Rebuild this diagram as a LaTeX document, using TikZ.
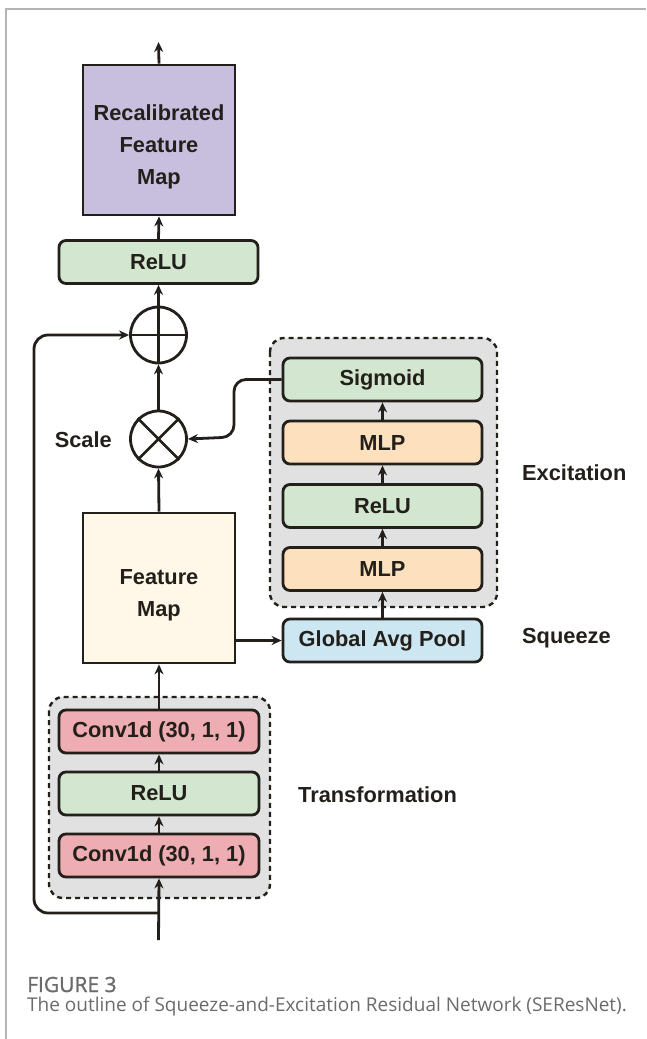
\documentclass[tikz,border=0pt]{standalone}
\usepackage{fontspec}
\setmainfont{Liberation Sans}
\newfontfamily\capfont{Open Sans}
\newfontfamily\capbold[FakeBold=1.3]{Open Sans}
\usetikzlibrary{arrows.meta,shapes.geometric,calc}
\definecolor{ink}{HTML}{231F1A}
\definecolor{lav}{HTML}{C8BFDE}
\definecolor{grn}{HTML}{D3E6CF}
\definecolor{peach}{HTML}{FDE0BD}
\definecolor{pinkc}{HTML}{EEADB2}
\definecolor{bluec}{HTML}{CDE7F2}
\definecolor{cream}{HTML}{FFF7E7}
\definecolor{bggray}{HTML}{E1E1E1}
\definecolor{capgray}{HTML}{6B6B6B}
\definecolor{framegray}{HTML}{B4B4B4}
\tikzset{
  lw/.style={line width=2.8pt},
  blk/.style={lw, draw=ink, rounded corners=7pt, minimum width=199pt, minimum height=43pt, inner sep=0pt, font=\bfseries\fontsize{21.8}{26}\selectfont, text=ink},
  bigbox/.style={lw, draw=ink, minimum width=152pt, minimum height=150pt, inner sep=0pt},
  bigtext/.style={inner sep=0pt, align=center, font=\bfseries\fontsize{21.8}{32}\selectfont, text=ink},
  opcirc/.style={lw, draw=ink, circle, minimum size=56pt, inner sep=0pt},
  grp/.style={line width=2.4pt, draw=ink, dashed, dash pattern=on 5pt off 4pt, fill=bggray, rounded corners=14pt},
  lbl/.style={inner sep=0pt, font=\bfseries\fontsize{21.8}{26}\selectfont, text=ink},
  arr/.style={lw, draw=ink, -{Stealth[length=10pt,width=9pt]}},
  ln/.style={lw, draw=ink},
}
\begin{document}
\begin{tikzpicture}[x=1pt,y=-1pt]
\useasboundingbox (0,0) rectangle (646,1039);
% frame
\draw[framegray, line width=1.3pt] (6,1039) -- (6,9) -- (646,9);
% group backgrounds
\draw[grp] (49,697) rectangle (270,898);
\draw[grp] (270,338) rectangle (497,607);
% nodes
\node[bigbox, fill=lav] (recal) at (159,140) {};
\node[bigtext] (recalT) at (159,146.5) {Recalibrated\\Feature\\Map};
\node[blk, fill=grn] (relu1) at (158.5,262) {ReLU};
\node[opcirc] (oplus) at (158.5,335) {};
\node[opcirc] (otimes) at (158.5,439) {};
\node[bigbox, fill=cream] (feat) at (159,588) {};
\node[bigtext] (featT) at (159,595) {Feature\\Map};
\node[blk, fill=pinkc, minimum width=200pt] (conv2) at (159,731.5) {Conv1d (30, 1, 1)};
\node[blk, fill=grn, minimum width=200pt] (relu2) at (159,793.5) {ReLU};
\node[blk, fill=pinkc, minimum width=200pt] (conv1) at (159,855.5) {Conv1d (30, 1, 1)};
\node[blk, fill=grn] (sig) at (382.5,379.5) {Sigmoid};
\node[blk, fill=peach] (mlp2) at (382.5,442.5) {MLP};
\node[blk, fill=grn] (relu3) at (382.5,506) {ReLU};
\node[blk, fill=peach] (mlp1) at (382.5,569) {MLP};
\node[blk, fill=bluec] (gap) at (382.5,640.5) {Global Avg Pool};
% operator symbols
\draw[ln] (oplus.north) -- (oplus.south) (oplus.west) -- (oplus.east);
\draw[ln] (otimes.north west) -- (otimes.south east) (otimes.north east) -- (otimes.south west);
% labels
\node[lbl, anchor=east] (scale) at (112,440) {Scale};
\node[lbl, anchor=west] (exc) at (522,473) {Excitation};
\node[lbl, anchor=west] (sq) at (522,638) {Squeeze};
\node[lbl, anchor=west] (tr) at (298,795) {Transformation};
% coordinates
\coordinate (out) at (158.5,42);
\coordinate (in) at (158.5,940);
\coordinate (skipb) at (158.5,913);
% connectors
\draw[arr] (recal.north) -- (out);
\draw[arr] (relu1.north) -- (recal.south);
\draw[arr] (oplus.north) -- (relu1.south);
\draw[arr] (otimes.north) -- (oplus.south);
\draw[arr] (feat.north) -- (otimes.south);
\draw[arr] (conv2.north) -- (feat.south);
\draw[arr] (relu2.north) -- (conv2.south);
\draw[arr] (conv1.north) -- (relu2.south);
\draw[arr] (in) -- (conv1.south);
\draw[arr, rounded corners=14pt] (skipb) -- (34,913) -- (34,335) -- (oplus.west);
\draw[arr] (feat.east |- gap.west) -- (gap.west);
\draw[arr] (gap.north) -- (mlp1.south);
\draw[arr] (mlp1.north) -- (relu3.south);
\draw[arr] (relu3.north) -- (mlp2.south);
\draw[arr] (mlp2.north) -- (sig.south);
\draw[arr, rounded corners=12pt] (sig.west) -- (234,379.5) -- (234,437) -- (otimes.east);
% caption
\node[anchor=base west, inner sep=0pt, text=capgray, font=\capbold\fontsize{21}{22}\selectfont] (fig) at (27,992) {FIGURE 3};
\node[anchor=base west, inner sep=0pt, text=capgray, font=\capfont\fontsize{19}{20}\selectfont] (cap) at (27,1011) {The outline of Squeeze-and-Excitation Residual Network (SEResNet).};
\end{tikzpicture}
\end{document}
